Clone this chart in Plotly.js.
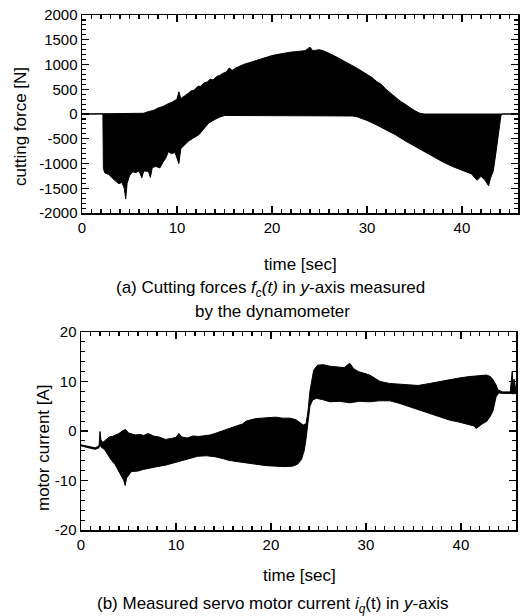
<!DOCTYPE html>
<html>
<head>
<meta charset="utf-8">
<script src="https://cdn.plot.ly/plotly-3.0.1.min.js"></script>
<style>html,body{margin:0;padding:0;background:#fff}#chart{width:522px;height:616px}</style>
</head>
<body>
<div id="chart"></div>
<script>
// (a) cutting force envelope [N]
const forceUpperTime = [0, 2.2, 6, 6.5, 7, 7.5, 8, 8.5, 9, 9.5, 10, 10.2, 10.4, 10.8, 11.2, 11.5, 11.8, 12.2, 12.5, 12.8, 13.2, 13.5, 13.8, 14.2, 14.5, 14.8, 15.2, 15.5, 15.8, 16.2, 16.5, 17, 17.5, 18, 18.5, 19, 19.5, 20, 20.5, 21, 21.5, 22, 22.5, 23, 23.5, 24, 24.3, 24.7, 25, 25.5, 26, 26.5, 27, 27.5, 28, 28.5, 29, 29.5, 30, 30.5, 31, 31.5, 32, 32.5, 33, 33.5, 34, 34.5, 35, 35.5, 36, 46];
const forceUpper = [0, 0, 5, 15, 50, 70, 120, 150, 200, 240, 300, 450, 310, 360, 420, 470, 480, 560, 560, 620, 650, 700, 690, 760, 780, 820, 850, 930, 880, 930, 960, 1000, 1030, 1060, 1100, 1120, 1160, 1180, 1200, 1220, 1230, 1250, 1260, 1270, 1280, 1350, 1280, 1290, 1300, 1270, 1230, 1180, 1130, 1080, 1030, 980, 920, 860, 800, 740, 660, 600, 500, 420, 340, 260, 200, 130, 70, 20, 0, 0];
const forceLowerTime = [0, 2.2, 2.25, 2.4, 2.8, 3.2, 3.5, 3.9, 4.2, 4.45, 4.6, 4.75, 5.0, 5.3, 5.7, 6.0, 6.3, 6.5, 7.0, 7.2, 7.4, 7.8, 8.2, 8.5, 8.8, 9.1, 9.4, 9.8, 10.2, 10.4, 10.8, 11.2, 11.6, 12.0, 12.3, 12.7, 13.0, 13.3, 13.7, 14.0, 14.4, 15, 28, 28.5, 29, 30, 31, 32, 33, 34, 35, 36, 37, 38, 39, 40, 41, 41.6, 42, 42.4, 42.8, 43.0, 43.3, 43.6, 43.9, 44.1, 44.3, 46];
const forceLower = [0, 0, -1100, -1190, -1220, -1300, -1350, -1410, -1380, -1500, -1720, -1400, -1250, -1170, -1180, -1150, -1290, -1150, -1160, -1280, -1080, -1060, -1090, -980, -900, -760, -800, -780, -1000, -700, -620, -550, -500, -450, -420, -330, -260, -190, -140, -110, -70, -30, -30, -40, -60, -130, -220, -320, -420, -540, -650, -760, -870, -970, -1060, -1140, -1210, -1340, -1260, -1330, -1450, -1300, -1150, -750, -250, -30, 0, 0];

// (b) motor current envelope [A]
const currUpperTime = [0, 0.5, 1.0, 1.5, 1.9, 2.0, 2.1, 2.3, 2.6, 3.0, 3.3, 3.7, 4.0, 4.4, 4.7, 5.0, 5.4, 5.7, 6.2, 6.6, 7.1, 7.6, 8.2, 8.9, 9.5, 10.0, 10.3, 10.6, 11.2, 11.8, 12.4, 13.0, 13.6, 14.1, 14.8, 15.5, 16.0, 16.5, 17.0, 17.4, 17.8, 18.4, 19.0, 19.9, 20.5, 21.2, 22.0, 22.6, 23.0, 23.4, 23.7, 23.9, 24.1, 24.3, 24.5, 24.9, 25.5, 26.2, 27.1, 27.7, 28.3, 28.7, 29.2, 29.7, 30.4, 31.0, 31.5, 32.5, 33.5, 34.6, 35.5, 36.7, 37.7, 38.8, 39.8, 40.9, 41.8, 42.7, 43.1, 43.4, 43.7, 43.9, 44.4, 45.2, 45.4, 45.5, 45.6, 45.8];
const currUpper = [-2.8, -3.0, -3.1, -3.4, -3.0, -0.1, -1.8, -2.3, -1.8, -1.2, -1.1, -0.7, -0.5, 0.1, 0.3, -0.4, -0.6, -0.8, -0.7, -0.9, -0.5, -1.0, -1.2, -1.7, -1.5, -1.3, -0.5, -1.2, -1.4, -1.0, -1.1, -1.0, -0.8, -0.5, 0.0, 0.5, 0.8, 1.1, 1.4, 2.0, 2.2, 2.5, 2.6, 2.8, 2.8, 2.6, 2.6, 2.3, 1.8, 1.2, 1.5, 4.0, 8.0, 10.5, 12.3, 13.3, 13.4, 13.1, 13.0, 12.8, 13.7, 12.6, 12.0, 11.7, 11.3, 10.6, 10.0, 9.6, 9.5, 9.3, 9.2, 9.6, 10.0, 10.3, 10.7, 11.0, 11.1, 11.3, 11.0, 10.3, 9.3, 8.3, 7.9, 7.9, 12.0, 8.5, 10.5, 8.0];
const currLowerTime = [0, 0.5, 1.0, 1.5, 1.9, 2.0, 2.1, 2.5, 2.8, 3.2, 3.6, 3.9, 4.2, 4.5, 4.65, 4.8, 5.3, 6.0, 6.5, 7.1, 8.0, 8.9, 9.8, 10.6, 11.5, 12.3, 13.2, 14.1, 15.0, 15.5, 16.5, 17.5, 18.5, 19.5, 20.5, 21.5, 22.3, 22.8, 23.2, 23.5, 23.7, 23.9, 24.1, 24.4, 24.8, 25.5, 26.2, 27.2, 28.3, 29.3, 30.4, 31.4, 32.5, 33.5, 34.6, 35.6, 36.7, 37.7, 38.8, 39.8, 40.9, 41.4, 41.6, 41.9, 42.3, 42.7, 43.1, 43.4, 43.7, 44.0, 44.4, 45.2, 45.5, 45.8];
const currLower = [-3.0, -3.3, -3.5, -3.7, -3.4, -2.5, -3.2, -3.8, -4.8, -5.9, -6.8, -7.9, -8.8, -10.0, -11.0, -9.5, -8.2, -8.1, -7.8, -7.5, -7.2, -6.9, -6.4, -5.9, -5.5, -5.1, -5.0, -5.2, -5.6, -5.9, -6.2, -6.5, -6.8, -7.0, -7.1, -7.2, -7.1, -6.7, -5.8, -4.0, -1.5, 2.0, 5.0, 6.3, 6.6, 6.3, 5.9, 6.0, 5.7, 6.0, 5.9, 6.1, 6.1, 5.6, 4.9, 4.2, 3.6, 2.9, 2.2, 1.8, 1.2, 1.0, 0.5, 1.0, 1.5, 1.9, 3.0, 4.2, 6.9, 7.7, 7.6, 7.6, 7.5, 7.6];

const xTicks = [0, 10, 20, 30, 40];
const forceTicks = [-2000, -1500, -1000, -500, 0, 500, 1000, 1500, 2000];
const currTicks = [-20, -10, 0, 10, 20];

const FONT = 'Liberation Sans, Arial, sans-serif';
const lineStyle = {color: '#000', width: 1};

const traces = [
  {x: forceLowerTime, y: forceLower, type: 'scatter', mode: 'lines', line: lineStyle, xaxis: 'x', yaxis: 'y', hoverinfo: 'skip'},
  {x: forceUpperTime, y: forceUpper, type: 'scatter', mode: 'lines', line: lineStyle, fill: 'tonexty', fillcolor: '#000', xaxis: 'x', yaxis: 'y', hoverinfo: 'skip'},
  {x: currLowerTime, y: currLower, type: 'scatter', mode: 'lines', line: lineStyle, xaxis: 'x2', yaxis: 'y2', hoverinfo: 'skip'},
  {x: currUpperTime, y: currUpper, type: 'scatter', mode: 'lines', line: lineStyle, fill: 'tonexty', fillcolor: '#000', xaxis: 'x2', yaxis: 'y2', hoverinfo: 'skip'}
];

function axisBase(extra) {
  return Object.assign({
    showgrid: false, zeroline: false, showline: true, linecolor: '#000', linewidth: 1.5,
    mirror: 'allticks', ticks: 'inside', ticklen: 7, tickwidth: 1.3, tickcolor: '#000',
    tickfont: {family: FONT, size: 15, color: '#000'},
    fixedrange: true
  }, extra);
}

const W = 522, H = 616;
const layout = {
  width: W, height: H,
  margin: {l: 0, r: 0, t: 0, b: 0},
  paper_bgcolor: '#fff', plot_bgcolor: '#fff',
  showlegend: false,
  xaxis: axisBase({domain: [82 / W, 518 / W], range: [0, 45.9], tickvals: xTicks, ticktext: xTicks.map(String), anchor: 'y',
    minor: {dtick: 1, ticklen: 4, tickwidth: 1.1, tickcolor: '#000', ticks: 'inside'}}),
  yaxis: axisBase({domain: [1 - 213 / H, 1 - 15 / H], range: [-2000, 2000], tickvals: forceTicks, ticktext: forceTicks.map(String), anchor: 'x',
    minor: {dtick: 100, ticklen: 4, tickwidth: 1.1, tickcolor: '#000', ticks: 'inside'}}),
  xaxis2: axisBase({domain: [81 / W, 516 / W], range: [0, 45.8], tickvals: xTicks, ticktext: xTicks.map(String), anchor: 'y2',
    minor: {dtick: 1, ticklen: 4, tickwidth: 1.1, tickcolor: '#000', ticks: 'inside'}}),
  yaxis2: axisBase({domain: [1 - 530 / H, 1 - 332 / H], range: [-20, 20], tickvals: currTicks, ticktext: currTicks.map(String), anchor: 'x2',
    minor: {dtick: 2, ticklen: 4, tickwidth: 1.1, tickcolor: '#000', ticks: 'inside'}}),
  annotations: [
    {text: 'cutting force [N]', textangle: -90, xref: 'paper', yref: 'paper', x: 20 / W, y: 1 - 127 / H, showarrow: false,
      font: {family: FONT, size: 17, color: '#000'}, xanchor: 'center', yanchor: 'middle'},
    {text: 'time [sec]', xref: 'paper', yref: 'paper', x: 300 / W, y: 1 - 264 / H, showarrow: false,
      font: {family: FONT, size: 17, color: '#000'}, xanchor: 'center', yanchor: 'middle'},
    {text: '(a) Cutting forces <i>f<sub>c</sub>(t)</i> in <i>y</i>-axis measured', xref: 'paper', yref: 'paper', x: 270 / W, y: 1 - 289 / H, showarrow: false,
      font: {family: FONT, size: 17, color: '#000'}, xanchor: 'center', yanchor: 'middle'},
    {text: 'by the dynamometer', xref: 'paper', yref: 'paper', x: 272 / W, y: 1 - 312 / H, showarrow: false,
      font: {family: FONT, size: 17, color: '#000'}, xanchor: 'center', yanchor: 'middle'},
    {text: 'motor current [A]', textangle: -90, xref: 'paper', yref: 'paper', x: 43 / W, y: 1 - 448 / H, showarrow: false,
      font: {family: FONT, size: 17, color: '#000'}, xanchor: 'center', yanchor: 'middle'},
    {text: 'time [sec]', xref: 'paper', yref: 'paper', x: 299 / W, y: 1 - 575 / H, showarrow: false,
      font: {family: FONT, size: 17, color: '#000'}, xanchor: 'center', yanchor: 'middle'},
    {text: '(b) Measured servo motor current <i>i<sub>q</sub></i>(t) in <i>y</i>-axis', xref: 'paper', yref: 'paper', x: 272 / W, y: 1 - 605 / H, showarrow: false,
      font: {family: FONT, size: 17, color: '#000'}, xanchor: 'center', yanchor: 'middle'}
  ]
};

Plotly.newPlot('chart', traces, layout, {displayModeBar: false, staticPlot: true});
</script>
</body>
</html>
